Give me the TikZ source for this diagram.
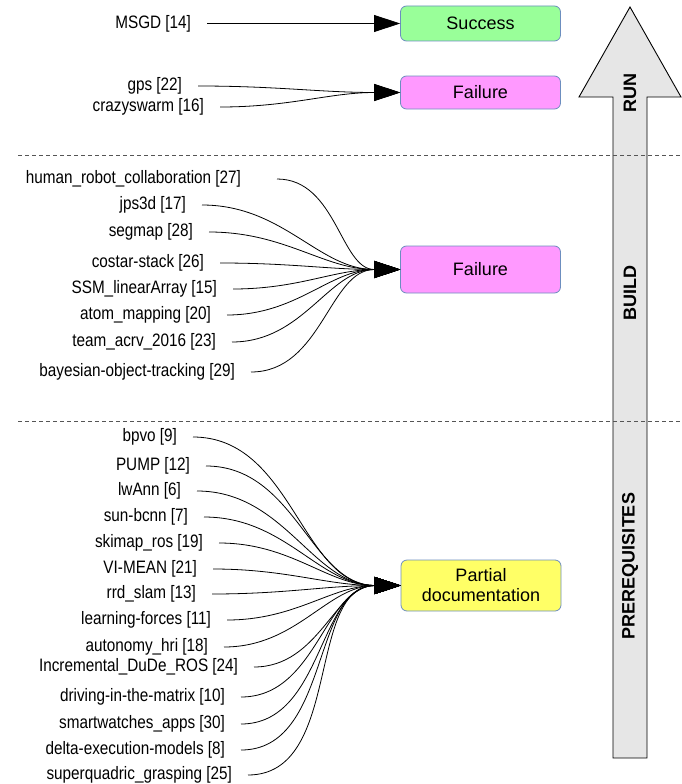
\documentclass[tikz,border=0pt]{standalone}
\usepackage{fontspec}
\setmainfont{Liberation Sans}
\newfontfamily\narrowfont[FakeStretch=0.85]{Liberation Sans}
\usetikzlibrary{arrows.meta}
\definecolor{succfill}{HTML}{99FF99}
\definecolor{failfill}{HTML}{FF99FF}
\definecolor{partfill}{HTML}{FFFF66}
\definecolor{boxline}{HTML}{6C8EBF}
\definecolor{bigarrow}{HTML}{E6E6E6}
\definecolor{sepline}{HTML}{555555}
\begin{document}
\begin{tikzpicture}[x=1pt,y=-1pt,
  lab/.style={font=\narrowfont\fontsize{18}{20}\selectfont, anchor=east, inner sep=0pt, outer xsep=16pt},
  box/.style={draw=boxline, line width=0.8pt, rounded corners=6pt, minimum width=160pt, align=center, inner sep=0pt, font=\fontsize{18}{20}\selectfont},
  conn/.style={line width=0.8pt, -{Triangle[length=26pt,width=17pt]}},
  stage/.style={rotate=90, font=\bfseries\fontsize{18}{20}\selectfont, inner sep=0pt},
  sep/.style={draw=sepline, line width=0.8pt, dash pattern=on 4pt off 3pt}]
\useasboundingbox (0,0) rectangle (682,784);

% big stage arrow
\draw[fill=bigarrow, line width=0.9pt, line join=miter]
  (613,758) -- (613,97) -- (579,97) -- (630,7) -- (681,97) -- (647,97) -- (647,758) -- cycle;
\node[stage] (run) at (630,93) {RUN};
\node[stage] (build) at (630,293) {BUILD};
\node[stage] (prereq) at (630,566) {PREREQUISITES};

% separators
\coordinate (s1a) at (18,155); \coordinate (s1b) at (680,155);
\coordinate (s2a) at (18,421); \coordinate (s2b) at (680,421);
\draw[sep] (s1a) -- (s1b);
\draw[sep] (s2a) -- (s2b);

% outcome boxes
\node[box, fill=succfill, minimum height=35pt] (succ) at (480.5,23.5) {Success};
\node[box, fill=failfill, minimum height=33pt] (fail1) at (480.5,92.5) {Failure};
\node[box, fill=failfill, minimum height=47pt] (fail2) at (480.5,269.5) {Failure};
\node[box, fill=partfill, minimum height=51pt] (part) at (481,585.5) {Partial\\documentation};

% RUN
\node[lab] (msgd) at (207,23.5) {MSGD [14]};
\draw[conn] (msgd.east) -- (succ.west);
\node[lab] (gps) at (198,86) {gps [22]};
\node[lab] (crazy) at (220,107) {crazyswarm [16]};
\draw[conn] (gps.east) to[out=0,in=180] (fail1.west);
\draw[conn] (crazy.east) to[out=0,in=180] (fail1.west);

% BUILD
\node[lab, outer xsep=36pt] (b1) at (277,179) {human\_robot\_collaboration [27]};
\node[lab] (b2) at (202,205) {jps3d [17]};
\node[lab] (b3) at (209,232) {segmap [28]};
\node[lab] (b4) at (220,263) {costar-stack [26]};
\node[lab] (b5) at (233,289) {SSM\_linearArray [15]};
\node[lab] (b6) at (227,315) {atom\_mapping [20]};
\node[lab] (b7) at (232,342) {team\_acrv\_2016 [23]};
\node[lab] (b8) at (251,372) {bayesian-object-tracking [29]};
\foreach \n in {b1,b2,b3,b4,b5,b6,b7,b8}
  \draw[conn] (\n.east) to[out=0,in=180] (fail2.west);

% PREREQUISITES
\node[lab] (p1) at (193,437) {bpvo [9]};
\node[lab] (p2) at (206,466) {PUMP [12]};
\node[lab] (p3) at (197,491) {lwAnn [6]};
\node[lab] (p4) at (204,517) {sun-bcnn [7]};
\node[lab] (p5) at (219,543) {skimap\_ros [19]};
\node[lab] (p6) at (213,569) {VI-MEAN [21]};
\node[lab] (p7) at (212,594) {rrd\_slam [13]};
\node[lab] (p8) at (227,620) {learning-forces [11]};
\node[lab] (p9) at (224,647) {autonomy\_hri [18]};
\node[lab] (p10) at (254,667) {Incremental\_DuDe\_ROS [24]};
\node[lab] (p11) at (241,697) {driving-in-the-matrix [10]};
\node[lab] (p12) at (241,724) {smartwatches\_apps [30]};
\node[lab] (p13) at (241,750) {delta-execution-models [8]};
\node[lab] (p14) at (248,775) {superquadric\_grasping [25]};
\foreach \n in {p1,p2,p3,p4,p5,p6,p7,p8,p9,p10,p11,p12,p13,p14}
  \draw[conn] (\n.east) to[out=0,in=180] (part.west);
\end{tikzpicture}
\end{document}
